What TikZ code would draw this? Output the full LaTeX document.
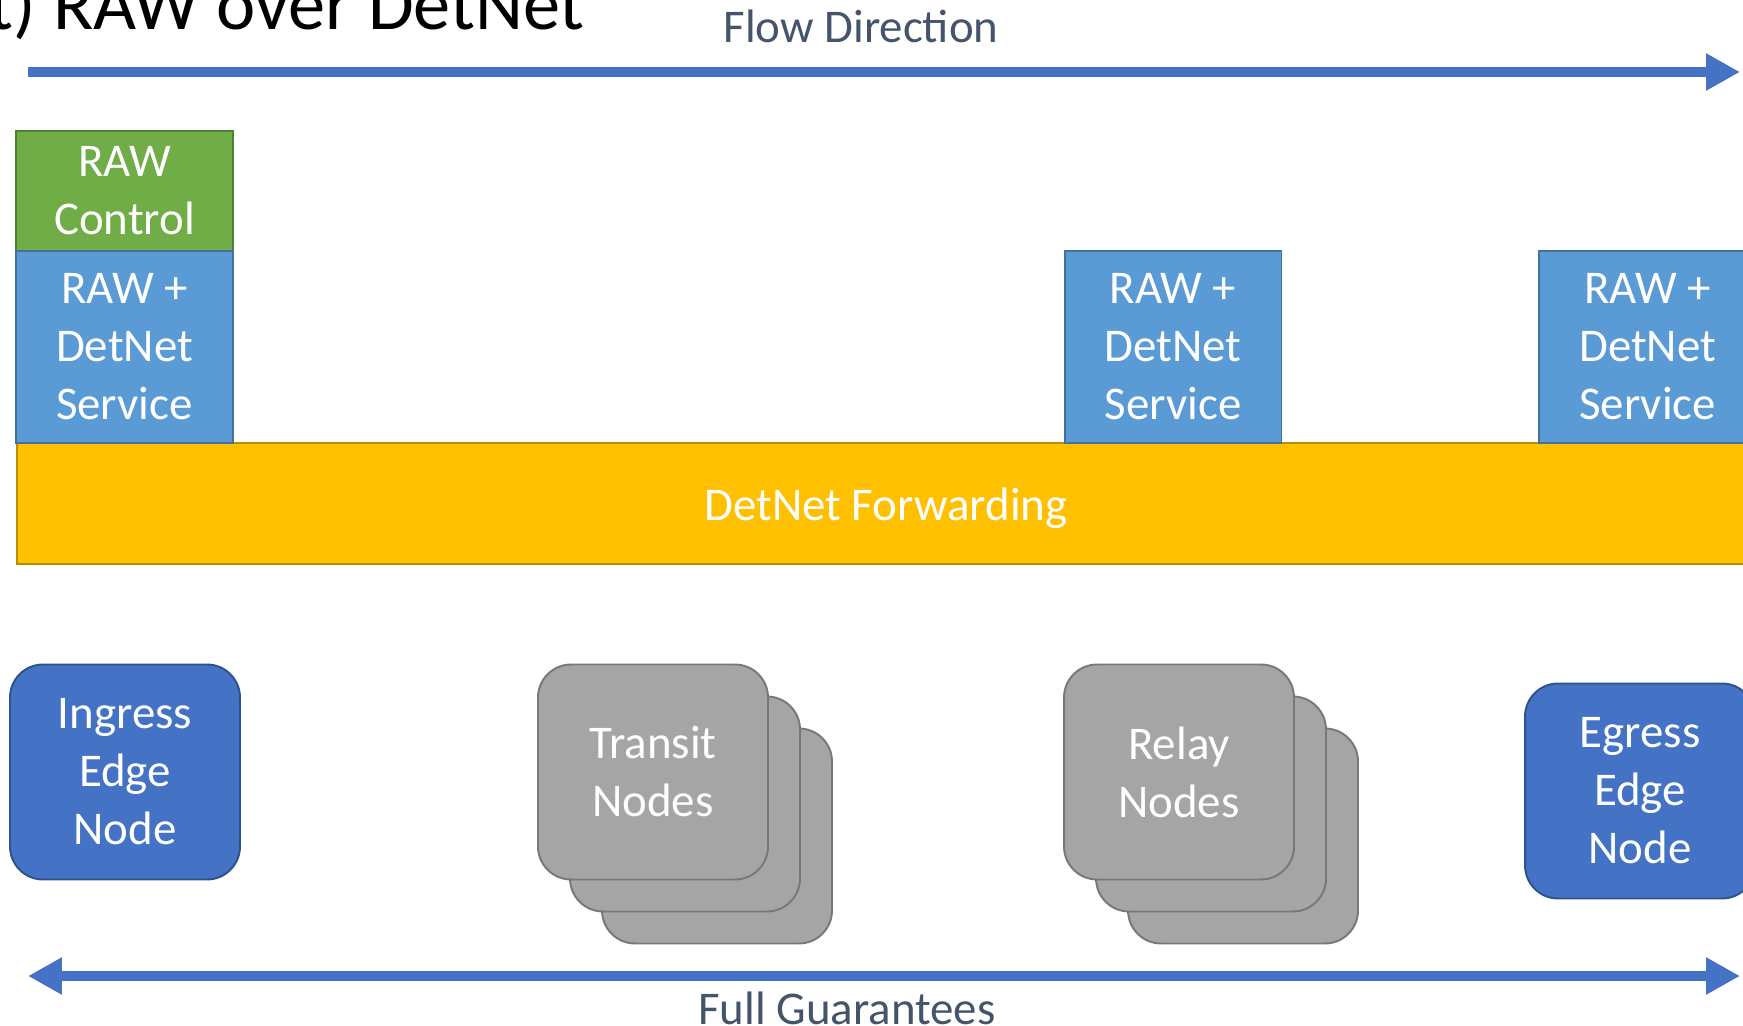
\documentclass[tikz,border=0pt]{standalone}
\usepackage{fontspec}
\setmainfont{Carlito}
\usepackage{xcolor}
\usetikzlibrary{positioning,arrows.meta}

\definecolor{ctrlgreen}{HTML}{70AD47}
\definecolor{ctrlgreenD}{HTML}{507E32}
\definecolor{svcblue}{HTML}{5B9BD5}
\definecolor{svcblueD}{HTML}{41719C}
\definecolor{fwdyellow}{HTML}{FFC000}
\definecolor{fwdyellowD}{HTML}{BC8C00}
\definecolor{edgeblue}{HTML}{4472C4}
\definecolor{edgeblueD}{HTML}{2F528F}
\definecolor{stackgray}{HTML}{A5A5A5}
\definecolor{stackgrayD}{HTML}{787878}
\definecolor{arrowblue}{HTML}{4472C4}
\definecolor{slate}{HTML}{44546A}

\begin{document}
\begin{tikzpicture}[
    x=0.02cm,
    y=-0.02cm,
    >={Triangle[length=0.68cm,width=0.7cm]},
    every node/.style={inner sep=0pt, outer sep=0pt, align=center}
]

\tikzstyle{layer}=[
    draw,
    line width=1.1pt,
    text=white,
    font=\fontsize{26.7}{33}\selectfont,
    execute at begin node={\rule{0pt}{24pt}}
]
\tikzstyle{control}=[layer, fill=ctrlgreen, draw=ctrlgreenD, minimum width=4.34cm, minimum height=2.4cm]
\tikzstyle{service}=[layer, fill=svcblue, draw=svcblueD, minimum width=4.34cm, minimum height=3.84cm]
\tikzstyle{fwdbar}=[layer, fill=fwdyellow, draw=fwdyellowD, minimum width=34.76cm, minimum height=2.42cm]
\tikzstyle{edgenode}=[layer, rounded corners=0.66cm, fill=edgeblue, draw=edgeblueD, minimum width=4.6cm, minimum height=4.3cm]
\tikzstyle{stack}=[layer, rounded corners=0.66cm, fill=stackgray, draw=stackgrayD, minimum width=4.6cm, minimum height=4.3cm]
\tikzstyle{flowline}=[draw=arrowblue, line width=6.2pt]
\tikzstyle{arrowtext}=[text=slate, font=\fontsize{26.7}{33}\selectfont]

\useasboundingbox (0,0) rectangle (1743,1026);
\clip (0,0) rectangle (1743,1026);

% title, cut by the frame
\node[anchor=base west, font=\fontsize{42.3}{48}\selectfont] (title) at (-11,30) {t) RAW over DetNet};

% flow direction
\coordinate (flowL) at (28,72);
\coordinate (flowR) at (1740,72);
\draw[flowline,->] (flowL) -- (flowR);
\node[arrowtext, anchor=base] (flow) at (861,43) {Flow Direction};

% layers
\node[fwdbar] (fwd) at (886,503.5) {DetNet Forwarding};
\node[control] (ctrl) at (124.5,191) {RAW\\Control};
\node[service] (svc1) at (124.5,347) {RAW +\\DetNet\\Service};
\node[service] (svc2) at (1173,347) {RAW +\\DetNet\\Service};
\node[service] (svc3) at (1647.5,347) {RAW +\\DetNet\\Service};

% nodes
\node[edgenode] (ingress) at (125,772) {Ingress\\Edge\\Node};

\node[stack] (transit3) at (717,836) {};
\node[stack] (transit2) at (685,804) {};
\node[stack] (transit) at (653,772) {Transit\\Nodes};

\node[stack] (relay3) at (1243,836) {};
\node[stack] (relay2) at (1211,804) {};
\node[stack] (relay) at (1179,772) {Relay\\Nodes};

\node[edgenode] (egress) at (1640,791) {Egress\\Edge\\Node};

% guarantees
\coordinate (guarL) at (28,976);
\coordinate (guarR) at (1740,976);
\draw[flowline,<->] (guarL) -- (guarR);
\node[arrowtext, anchor=base] (guar) at (847,1024) {Full Guarantees};

\end{tikzpicture}
\end{document}
